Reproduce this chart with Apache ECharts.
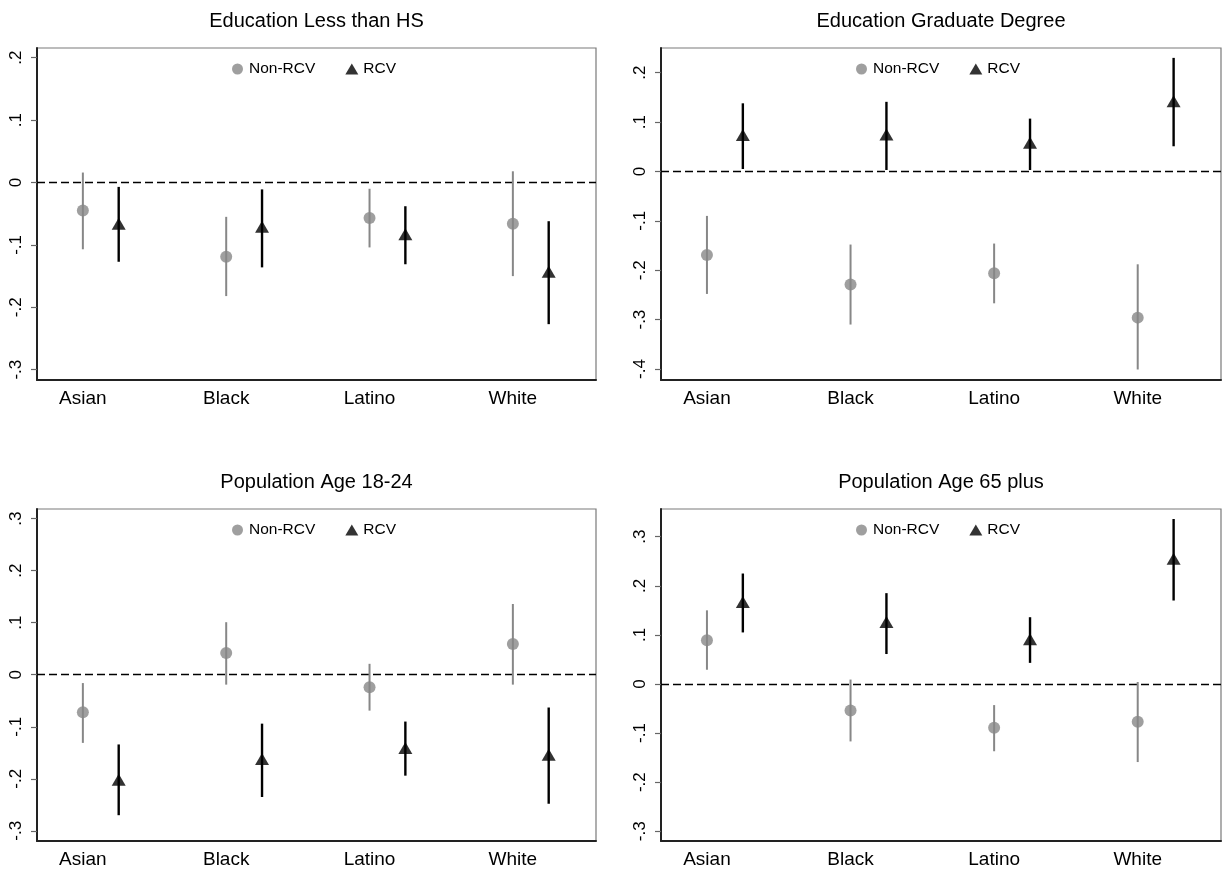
<!DOCTYPE html>
<html>
<head>
<meta charset="utf-8">
<script src="https://cdn.jsdelivr.net/npm/echarts@6/dist/echarts.min.js"></script>
<style>html,body{margin:0;padding:0;background:#fff}#main{width:1225px;height:873px}</style>
</head>
<body>
<div id="main"></div>
<script>
// ---- data ----
const categories = ['Asian', 'Black', 'Latino', 'White'];
const titles = ['Education Less than HS', 'Education Graduate Degree', 'Population Age 18-24', 'Population Age 65 plus'];
const legendNames = ['Non-RCV', 'RCV'];

// Education Less than HS
const lessHS_nonRCV    = [-0.045, -0.119, -0.057, -0.066];
const lessHS_nonRCV_lo = [-0.107, -0.182, -0.104, -0.150];
const lessHS_nonRCV_hi = [ 0.016, -0.055, -0.010,  0.018];
const lessHS_RCV       = [-0.066, -0.071, -0.083, -0.143];
const lessHS_RCV_lo    = [-0.127, -0.136, -0.131, -0.227];
const lessHS_RCV_hi    = [-0.007, -0.011, -0.038, -0.062];

// Education Graduate Degree
const grad_nonRCV    = [-0.169, -0.229, -0.206, -0.296];
const grad_nonRCV_lo = [-0.248, -0.310, -0.267, -0.401];
const grad_nonRCV_hi = [-0.090, -0.148, -0.146, -0.188];
const grad_RCV       = [ 0.074,  0.075,  0.058,  0.142];
const grad_RCV_lo    = [ 0.005,  0.003,  0.003,  0.051];
const grad_RCV_hi    = [ 0.138,  0.141,  0.107,  0.230];

// Population Age 18-24
const age1824_nonRCV    = [-0.072,  0.042, -0.024,  0.059];
const age1824_nonRCV_lo = [-0.131, -0.019, -0.069, -0.019];
const age1824_nonRCV_hi = [-0.016,  0.101,  0.021,  0.136];
const age1824_RCV       = [-0.202, -0.162, -0.141, -0.154];
const age1824_RCV_lo    = [-0.270, -0.235, -0.194, -0.248];
const age1824_RCV_hi    = [-0.134, -0.094, -0.090, -0.063];

// Population Age 65 plus
const age65_nonRCV    = [ 0.089, -0.054, -0.089, -0.077];
const age65_nonRCV_lo = [ 0.029, -0.117, -0.137, -0.159];
const age65_nonRCV_hi = [ 0.150,  0.009, -0.043,  0.004];
const age65_RCV       = [ 0.167,  0.126,  0.091,  0.255];
const age65_RCV_lo    = [ 0.105,  0.061,  0.043,  0.170];
const age65_RCV_hi    = [ 0.225,  0.185,  0.136,  0.336];

// y tick labels per panel
const yTicks1 = [-0.3, -0.2, -0.1, 0, 0.1, 0.2];
const yTicks2 = [-0.4, -0.3, -0.2, -0.1, 0, 0.1, 0.2];
const yTicks3 = [-0.3, -0.2, -0.1, 0, 0.1, 0.2, 0.3];
const yTicks4 = [-0.3, -0.2, -0.1, 0, 0.1, 0.2, 0.3];

// ---- layout / styling ----
const FONT = '"Liberation Sans", Arial, Helvetica, sans-serif';
const GRAY = '#878787';
const panels = [
  {title: titles[0], grid: {left: 37, top: 48, width: 559, height: 332}, yMin: -0.3165, yMax: 0.2156, ticks: yTicks1,
   nr: [lessHS_nonRCV, lessHS_nonRCV_lo, lessHS_nonRCV_hi], r: [lessHS_RCV, lessHS_RCV_lo, lessHS_RCV_hi]},
  {title: titles[1], grid: {left: 661, top: 48, width: 560, height: 332}, yMin: -0.4223, yMax: 0.25, ticks: yTicks2,
   nr: [grad_nonRCV, grad_nonRCV_lo, grad_nonRCV_hi], r: [grad_RCV, grad_RCV_lo, grad_RCV_hi]},
  {title: titles[2], grid: {left: 37, top: 509, width: 559, height: 332}, yMin: -0.3196, yMax: 0.3186, ticks: yTicks3,
   nr: [age1824_nonRCV, age1824_nonRCV_lo, age1824_nonRCV_hi], r: [age1824_RCV, age1824_RCV_lo, age1824_RCV_hi]},
  {title: titles[3], grid: {left: 661, top: 509, width: 560, height: 332}, yMin: -0.3198, yMax: 0.3564, ticks: yTicks4,
   nr: [age65_nonRCV, age65_nonRCV_lo, age65_nonRCV_hi], r: [age65_RCV, age65_RCV_lo, age65_RCV_hi]}
];
const RCV_OFFSET = 0.25;
const X_MIN = 0.68, X_MAX = 4.58;

function statFmt(v) {
  const r = Math.round(v * 10) / 10;
  if (Math.abs(r) < 1e-9) return '0';
  const s = Math.abs(r).toFixed(1).replace(/^0/, '');
  return (r < 0 ? '-' : '') + s;
}

function errBar(color, width) {
  return function (params, api) {
    const x = api.value(0);
    const p1 = api.coord([x, api.value(1)]);
    const p2 = api.coord([x, api.value(2)]);
    return {type: 'line', shape: {x1: p1[0], y1: p1[1], x2: p2[0], y2: p2[1]},
            style: {stroke: color, lineWidth: width}};
  };
}

const option = {
  backgroundColor: '#fff',
  animation: false,
  grid: [], xAxis: [], yAxis: [], series: [], legend: [], graphic: []
};

panels.forEach((p, i) => {
  option.grid.push(Object.assign({show: true, borderColor: '#7a7a7a', borderWidth: 1.2, backgroundColor: '#fff'}, p.grid));
  option.xAxis.push({
    type: 'value', gridIndex: i, min: X_MIN, max: X_MAX,
    splitLine: {show: false},
    axisLine: {show: true, onZero: false, lineStyle: {color: '#222', width: 2}},
    axisTick: {show: false},
    axisLabel: {
      customValues: [1, 2, 3, 4],
      formatter: v => categories[Math.round(v) - 1] || '',
      color: '#000', fontSize: 19, fontFamily: FONT, margin: 9
    }
  });
  option.yAxis.push({
    type: 'value', gridIndex: i, min: p.yMin, max: p.yMax,
    splitLine: {show: false},
    axisLine: {show: true, onZero: false, lineStyle: {color: '#222', width: 2}},
    axisTick: {show: true, customValues: p.ticks, length: 6, lineStyle: {color: '#666', width: 1.2}},
    axisLabel: {
      customValues: p.ticks, formatter: v => statFmt(v), rotate: 90,
      color: '#000', fontSize: 17, fontFamily: FONT, margin: 12
    }
  });
  const nrBars = categories.map((c, k) => [k + 1, p.nr[1][k], p.nr[2][k]]);
  const rBars = categories.map((c, k) => [k + 1 + RCV_OFFSET, p.r[1][k], p.r[2][k]]);
  option.series.push({
    type: 'custom', name: 'nonrcv-ci-' + i, xAxisIndex: i, yAxisIndex: i, z: 2,
    renderItem: errBar(GRAY, 2), data: nrBars, encode: {x: 0, y: [1, 2]}, silent: true,
    markLine: {silent: true, symbol: 'none', label: {show: false},
      lineStyle: {color: '#000', width: 1.4, type: [8, 4]}, data: [{yAxis: 0}], z: 1}
  });
  option.series.push({
    type: 'custom', name: 'rcv-ci-' + i, xAxisIndex: i, yAxisIndex: i, z: 2,
    renderItem: errBar('#000', 2.4), data: rBars, encode: {x: 0, y: [1, 2]}, silent: true
  });
  option.series.push({
    type: 'scatter', name: legendNames[0], xAxisIndex: i, yAxisIndex: i, z: 3,
    symbol: 'circle', symbolSize: 12, itemStyle: {color: GRAY},
    data: categories.map((c, k) => [k + 1, p.nr[0][k]])
  });
  option.series.push({
    type: 'scatter', name: legendNames[1], xAxisIndex: i, yAxisIndex: i, z: 3,
    symbol: 'triangle', symbolSize: [14, 12], itemStyle: {color: '#000'},
    data: categories.map((c, k) => [k + 1 + RCV_OFFSET, p.r[0][k]])
  });
  option.legend.push({
    left: p.grid.left + 195, top: p.grid.top + 13, padding: 0,
    itemWidth: 13, itemHeight: 11, itemGap: 30, selectedMode: false,
    textStyle: {fontSize: 15.5, fontFamily: FONT, color: '#000'},
    data: [{name: legendNames[0], icon: 'circle'}, {name: legendNames[1], icon: 'triangle'}]
  });
  option.graphic.push({
    type: 'text', x: p.grid.left + p.grid.width / 2, y: p.grid.top - 27,
    style: {text: p.title, align: 'center', verticalAlign: 'middle', fontSize: 20, fontFamily: FONT, fill: '#000'}
  });
});

const chart = echarts.init(document.getElementById('main'), null, {renderer: 'canvas'});
chart.setOption(option);
</script>
</body>
</html>
